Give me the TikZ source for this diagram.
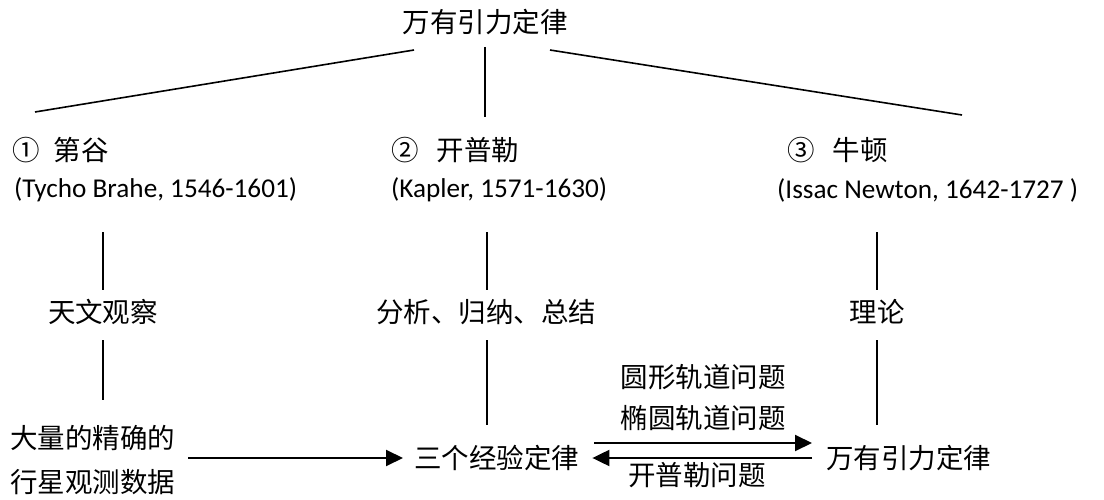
\documentclass[tikz,border=0pt]{standalone}
\usepackage{fontspec}
\setmainfont{Carlito}
\newfontfamily\cjk{Noto Sans CJK SC}
\usetikzlibrary{arrows.meta}
\begin{document}
\begin{tikzpicture}[x=1pt,y=-1pt,
  txt/.style={inner sep=0pt, font=\fontsize{27.5}{34}\selectfont\cjk},
  lat/.style={inner sep=0pt, font=\fontsize{27.2}{34}\selectfont},
  ln/.style={line width=1.6pt},
  arr/.style={line width=2pt,-{Triangle[length=17pt,width=16pt]}}]
\useasboundingbox (0,0) rectangle (1104,500);
% nodes
\node[txt] (top) at (485,22) {万有引力定律};
\node[txt,anchor=west] (p1) at (12,150) {①\hspace{14pt}第谷};
\node[txt,anchor=west] (p2) at (391,150) {②\hspace{18pt}开普勒};
\node[txt,anchor=west] (p3) at (787,150) {③\hspace{18pt}牛顿};
\node[lat,anchor=west] (n1) at (14,190) {(Tycho Brahe, 1546-1601)};
\node[lat,anchor=west] (n2) at (391,190) {(Kapler, 1571-1630)};
\node[lat,anchor=west] (n3) at (777,190) {(Issac Newton, 1642-1727 )};
\node[txt] (m1) at (103,312) {天文观察};
\node[txt] (m2) at (486,312) {分析、归纳、总结};
\node[txt] (m3) at (877,312) {理论};
\node[txt,align=left,anchor=west,font=\fontsize{27.5}{44}\selectfont\cjk] (data) at (10,460) {大量的精确的\\行星观测数据};
\node[txt,anchor=west] (three) at (414,458) {三个经验定律};
\node[txt,anchor=west] (law) at (826,458) {万有引力定律};
\node[txt] (q1) at (703,377) {圆形轨道问题};
\node[txt] (q2) at (703,418) {椭圆轨道问题};
\node[txt] (q3) at (697,475) {开普勒问题};
% line ends
\coordinate (a0) at (414,50);
\coordinate (a1) at (35,112);
\coordinate (b0) at (485,47);
\coordinate (b1) at (485,117);
\coordinate (c0) at (550,50);
\coordinate (c1) at (962,115);
\coordinate (d0) at (103,232);
\coordinate (d1) at (103,290);
\coordinate (e0) at (487,232);
\coordinate (e1) at (487,290);
\coordinate (f0) at (877,232);
\coordinate (f1) at (877,290);
\coordinate (g0) at (103,340);
\coordinate (g1) at (103,400);
\coordinate (h0) at (487,340);
\coordinate (h1) at (487,425);
\coordinate (i0) at (877,340);
\coordinate (i1) at (877,425);
% lines
\draw[ln] (a0) -- (a1);
\draw[ln] (b0) -- (b1);
\draw[ln] (c0) -- (c1);
\draw[ln] (d0) -- (d1);
\draw[ln] (e0) -- (e1);
\draw[ln] (f0) -- (f1);
\draw[ln] (g0) -- (g1);
\draw[ln] (h0) -- (h1);
\draw[ln] (i0) -- (i1);
% arrows
\draw[arr,shorten <=13pt,shorten >=11pt] (data.east |- three.west) -- (three.west);
\draw[arr,shorten <=15pt,shorten >=14pt] ([yshift=15pt]three.east) -- ([yshift=15pt]three.east -| law.west);
\draw[arr,shorten <=14pt,shorten >=13pt] (law.west) -- (three.east);
\end{tikzpicture}
\end{document}
